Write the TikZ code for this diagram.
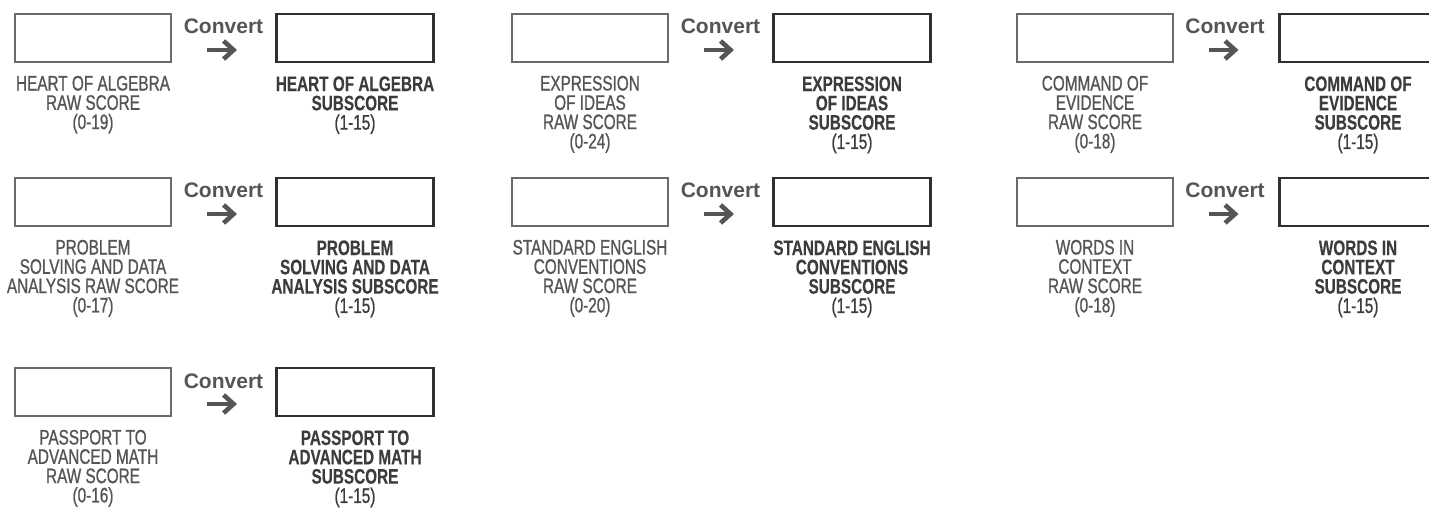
\documentclass[tikz,border=0pt]{standalone}
\usepackage{fontspec}
\usepackage{tikz}
\usetikzlibrary{arrows.meta}
\newfontfamily\condfont{Liberation Sans}[FakeStretch=0.73, FakeBold=0.9, BoldFeatures={FakeBold=0.3}]
\newfontfamily\convfont{Liberation Sans}
\definecolor{rawgray}{HTML}{555555}
\definecolor{subgray}{HTML}{3C3C3C}
\definecolor{boxgray}{HTML}{6A6A6A}
\definecolor{convgray}{HTML}{555555}

\begin{document}
\begin{tikzpicture}[x=1pt,y=-1pt,
    rawbox/.style={draw=boxgray, line width=1.3pt, minimum width=156pt, minimum height=48pt, inner sep=0pt},
    subbox/.style={draw=subgray!80!black, line width=2.3pt, minimum width=157pt, minimum height=48pt, inner sep=0pt},
    rawlabel/.style={anchor=north, inner sep=0pt, align=center, text=rawgray,
      font=\condfont\fontsize{21pt}{19.3pt}\selectfont},
    sublabel/.style={rawlabel, text=subgray},
    convtext/.style={anchor=base, inner sep=0pt, text=convgray,
      font=\convfont\bfseries\fontsize{21pt}{22pt}\selectfont},
    convarrow/.style={draw=convgray, line width=4.6pt, line join=miter,
      -{Straight Barb[length=10pt,width=18pt,line join=miter]}}]
    \clip (0,0) rectangle (1429,513);

    % Heart of Algebra:
    \node[rawbox] (hoa raw) at (93,38) {};
    \node[subbox] (hoa sub) at (355,38) {};
    \node[convtext] (hoa cv) at (223.5,34) {Convert};
    \draw[convarrow] ([xshift=-16.5pt,yshift=-16pt]hoa cv.base) -- ([xshift=13.5pt,yshift=-16pt]hoa cv.base);
    \node[rawlabel] (hoa rawtxt) at ([yshift=-13pt]hoa raw.south) {HEART OF ALGEBRA\\RAW SCORE\\(0-19)};
    \node[sublabel] (hoa subtxt) at ([yshift=-13pt]hoa sub.south) {\textbf{HEART OF ALGEBRA}\\\textbf{SUBSCORE}\\(1-15)};

    % Expression of Ideas:
    \node[rawbox] (eoi raw) at (590,38) {};
    \node[subbox] (eoi sub) at (852,38) {};
    \node[convtext] (eoi cv) at (720.5,34) {Convert};
    \draw[convarrow] ([xshift=-16.5pt,yshift=-16pt]eoi cv.base) -- ([xshift=13.5pt,yshift=-16pt]eoi cv.base);
    \node[rawlabel] (eoi rawtxt) at ([yshift=-13pt]eoi raw.south) {EXPRESSION\\OF IDEAS\\RAW SCORE\\(0-24)};
    \node[sublabel] (eoi subtxt) at ([yshift=-13pt]eoi sub.south) {\textbf{EXPRESSION}\\\textbf{OF IDEAS}\\\textbf{SUBSCORE}\\(1-15)};

    % Command of Evidence:
    \node[rawbox] (coe raw) at (1095,38) {};
    \node[subbox] (coe sub) at (1358,38) {};
    \node[convtext] (coe cv) at (1225,34) {Convert};
    \draw[convarrow] ([xshift=-16.5pt,yshift=-16pt]coe cv.base) -- ([xshift=13.5pt,yshift=-16pt]coe cv.base);
    \node[rawlabel] (coe rawtxt) at ([yshift=-13pt]coe raw.south) {COMMAND OF\\EVIDENCE\\RAW SCORE\\(0-18)};
    \node[sublabel] (coe subtxt) at ([yshift=-13pt]coe sub.south) {\textbf{COMMAND OF}\\\textbf{EVIDENCE}\\\textbf{SUBSCORE}\\(1-15)};

    % Problem Solving and Data Analysis:
    \node[rawbox] (psd raw) at (93,202) {};
    \node[subbox] (psd sub) at (355,202) {};
    \node[convtext] (psd cv) at (223.5,198) {Convert};
    \draw[convarrow] ([xshift=-16.5pt,yshift=-16pt]psd cv.base) -- ([xshift=13.5pt,yshift=-16pt]psd cv.base);
    \node[rawlabel] (psd rawtxt) at ([yshift=-13pt]psd raw.south) {PROBLEM\\SOLVING AND DATA\\ANALYSIS RAW SCORE\\(0-17)};
    \node[sublabel] (psd subtxt) at ([yshift=-13pt]psd sub.south) {\textbf{PROBLEM}\\\textbf{SOLVING AND DATA}\\\textbf{ANALYSIS SUBSCORE}\\(1-15)};

    % Standard English Conventions:
    \node[rawbox] (sec raw) at (590,202) {};
    \node[subbox] (sec sub) at (852,202) {};
    \node[convtext] (sec cv) at (720.5,198) {Convert};
    \draw[convarrow] ([xshift=-16.5pt,yshift=-16pt]sec cv.base) -- ([xshift=13.5pt,yshift=-16pt]sec cv.base);
    \node[rawlabel] (sec rawtxt) at ([yshift=-13pt]sec raw.south) {STANDARD ENGLISH\\CONVENTIONS\\RAW SCORE\\(0-20)};
    \node[sublabel] (sec subtxt) at ([yshift=-13pt]sec sub.south) {\textbf{STANDARD ENGLISH}\\\textbf{CONVENTIONS}\\\textbf{SUBSCORE}\\(1-15)};

    % Words in Context:
    \node[rawbox] (wic raw) at (1095,202) {};
    \node[subbox] (wic sub) at (1358,202) {};
    \node[convtext] (wic cv) at (1225,198) {Convert};
    \draw[convarrow] ([xshift=-16.5pt,yshift=-16pt]wic cv.base) -- ([xshift=13.5pt,yshift=-16pt]wic cv.base);
    \node[rawlabel] (wic rawtxt) at ([yshift=-13pt]wic raw.south) {WORDS IN\\CONTEXT\\RAW SCORE\\(0-18)};
    \node[sublabel] (wic subtxt) at ([yshift=-13pt]wic sub.south) {\textbf{WORDS IN}\\\textbf{CONTEXT}\\\textbf{SUBSCORE}\\(1-15)};

    % Passport to Advanced Math:
    \node[rawbox] (pam raw) at (93,392) {};
    \node[subbox] (pam sub) at (355,392) {};
    \node[convtext] (pam cv) at (223.5,388) {Convert};
    \draw[convarrow] ([xshift=-16.5pt,yshift=-16pt]pam cv.base) -- ([xshift=13.5pt,yshift=-16pt]pam cv.base);
    \node[rawlabel] (pam rawtxt) at ([yshift=-13pt]pam raw.south) {PASSPORT TO\\ADVANCED MATH\\RAW SCORE\\(0-16)};
    \node[sublabel] (pam subtxt) at ([yshift=-13pt]pam sub.south) {\textbf{PASSPORT TO}\\\textbf{ADVANCED MATH}\\\textbf{SUBSCORE}\\(1-15)};
  \end{tikzpicture}
\end{document}
